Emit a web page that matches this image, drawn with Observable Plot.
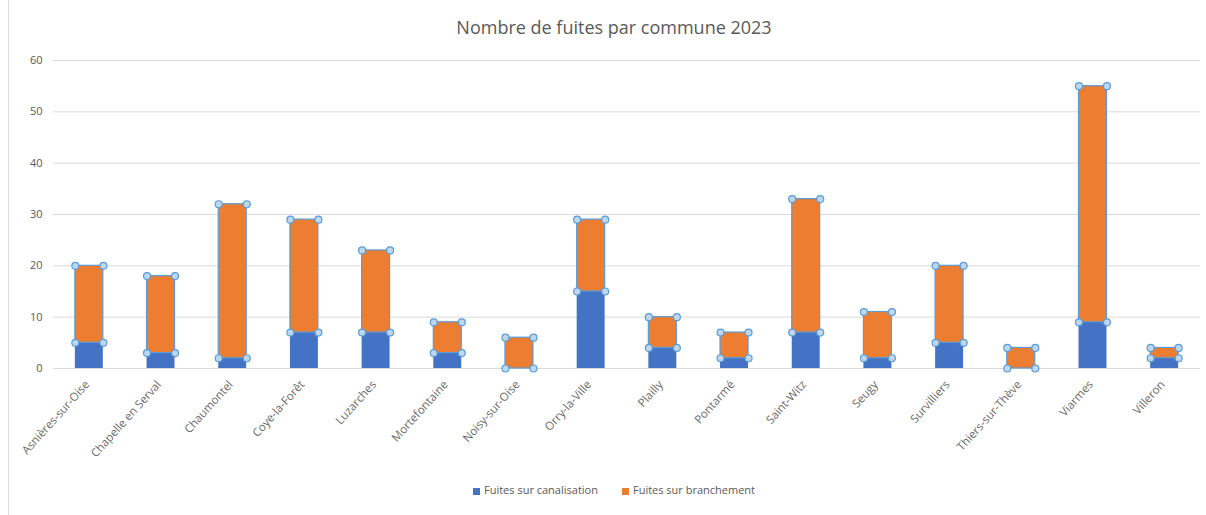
<!DOCTYPE html>
<html>
<head>
<meta charset="utf-8">
<script src="https://cdn.jsdelivr.net/npm/d3@7"></script>
<script src="https://cdn.jsdelivr.net/npm/@observablehq/plot@0.6"></script>
<style>
  body { margin: 0; background: #fff; font-family: "Open Sans", "Noto Sans", sans-serif; position: relative; width: 1206px; height: 515px; overflow: hidden; }
  #border { position: absolute; left: 8px; top: 0; width: 0; height: 515px; border-left: 1px solid #d9d9d9; }
  #title { height: 50px; line-height: 54px; text-align: center; font-size: 18px; color: #595959; padding-left: 22px; }
  #legend { display: flex; justify-content: center; align-items: center; gap: 24px; font-size: 11px; color: #595959; margin-top: 4px; padding-left: 22px; }
  #legend span.sw { display: inline-block; width: 7px; height: 7px; margin-right: 4px; vertical-align: middle; }
</style>
</head>
<body>
<div id="border"></div>
<div id="title">Nombre de fuites par commune 2023</div>
<div id="chart"></div>
<div id="legend"></div>
<script>
const communes = ["Asnières-sur-Oise","Chapelle en Serval","Chaumontel","Coye-la-Forêt","Luzarches","Mortefontaine","Noisy-sur-Oise","Orry-la-Ville","Plailly","Pontarmé","Saint-Witz","Seugy","Survilliers","Thiers-sur-Thève","Viarmes","Villeron"];
const canalisation = [5, 3, 2, 7, 7, 3, 0, 15, 4, 2, 7, 2, 5, 0, 9, 2];
const branchement = [15, 15, 30, 22, 16, 6, 6, 14, 6, 5, 26, 9, 15, 4, 46, 2];
const seriesNames = ["Fuites sur canalisation", "Fuites sur branchement"];
const seriesColors = ["#4472C4", "#ED7D31"];
const yTicks = [0, 10, 20, 30, 40, 50, 60];

const rows = communes.map((c, i) => ({commune: c, canal: canalisation[i], total: canalisation[i] + branchement[i]}));

const chart = Plot.plot({
  width: 1206,
  height: 428,
  marginLeft: 53,
  marginRight: 6,
  marginTop: 10,
  marginBottom: 110,
  style: {fontFamily: "'Open Sans', 'Noto Sans', sans-serif", fontSize: "11px", color: "#595959", background: "transparent"},
  x: {domain: communes, paddingInner: 0.61, paddingOuter: 0.305, round: false},
  y: {domain: [0, 60]},
  marks: [
    Plot.gridY(yTicks, {stroke: "#d9d9d9", strokeOpacity: 1, strokeWidth: 1}),
    Plot.axisY(yTicks, {tickSize: 0, tickPadding: 11, label: null, fill: "#595959"}),
    Plot.axisX({tickSize: 0, tickRotate: -48, tickPadding: 14, dx: -2, label: null, fill: "#6b6b6b", fontSize: 11.5}),
    Plot.barY(rows, {x: "commune", y1: 0, y2: "canal", fill: seriesColors[0]}),
    Plot.barY(rows, {x: "commune", y1: "canal", y2: "total", fill: seriesColors[1], stroke: "#5b9bd5", strokeWidth: 1.2}),
    Plot.dot(rows, {x: "commune", y: "canal", dx: -14, r: 3.5, fill: "#bdd7ee", stroke: "#5b9bd5", strokeWidth: 1.2}),
    Plot.dot(rows, {x: "commune", y: "canal", dx: 14, r: 3.5, fill: "#bdd7ee", stroke: "#5b9bd5", strokeWidth: 1.2}),
    Plot.dot(rows, {x: "commune", y: "total", dx: -14, r: 3.5, fill: "#bdd7ee", stroke: "#5b9bd5", strokeWidth: 1.2}),
    Plot.dot(rows, {x: "commune", y: "total", dx: 14, r: 3.5, fill: "#bdd7ee", stroke: "#5b9bd5", strokeWidth: 1.2})
  ]
});
document.getElementById("chart").appendChild(chart);

const legend = document.getElementById("legend");
seriesNames.forEach((n, i) => {
  const item = document.createElement("div");
  const sw = document.createElement("span");
  sw.className = "sw";
  sw.style.background = seriesColors[i];
  item.appendChild(sw);
  item.appendChild(document.createTextNode(n));
  legend.appendChild(item);
});
</script>
</body>
</html>
